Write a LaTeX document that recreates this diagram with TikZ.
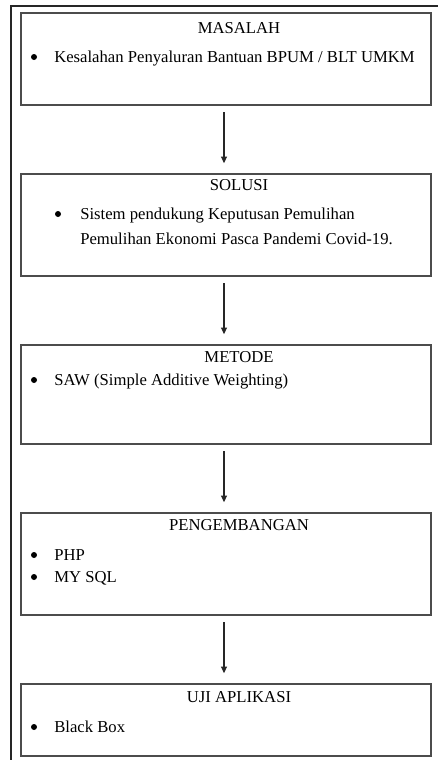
\documentclass[tikz,border=0pt]{standalone}
\usepackage{fontspec}
\setmainfont{Liberation Serif}
\usetikzlibrary{arrows.meta,fit}
\tikzset{
kotak/.style={draw=black!70,line width=1.2pt,inner sep=0pt},
judul/.style={inner sep=0pt,text height=9pt,text depth=1pt},
isi/.style={inner sep=0pt,anchor=west,text height=9pt,text depth=1pt},
titik/.style={circle,fill=black,inner sep=0pt,minimum size=4.5pt},
panah/.style={draw=black!85,line width=0.8pt,-{Triangle[width=4.5pt,length=5pt]},
  shorten <=5pt,shorten >=7.5pt}
}
\begin{document}
\begin{tikzpicture}[x=0.75pt,y=-0.75pt,font=\fontsize{12.5}{15}\selectfont]
\useasboundingbox(0,0)rectangle(437,760);
% bingkai luar
\draw[draw=black!85,line width=1.5pt](11,762)--(11,6)--(439,6);
% kotak
\node[kotak,fit={(21,13)(431,105)}](masalah){};
\node[kotak,fit={(21,174)(431,276)}](solusi){};
\node[kotak,fit={(21,345)(431,444)}](metode){};
\node[kotak,fit={(21,513)(431,615)}](pengembangan){};
\node[kotak,fit={(21,684)(431,756)}](uji){};
% teks
\node[judul](j1)at(239,28){MASALAH};
\node[titik](t1a)at(34,57){};
\node[isi](t1)at(54,57){Kesalahan Penyaluran Bantuan BPUM / BLT UMKM};
\node[judul](j2)at(239,185){SOLUSI};
\node[titik](t2a)at(58,214){};
\node[isi](t2)at(80,214){Sistem pendukung Keputusan Pemulihan};
\node[isi](t2b)at(80,239){Pemulihan Ekonomi Pasca Pandemi Covid-19.};
\node[judul](j3)at(239,357){METODE};
\node[titik](t3a)at(34,380){};
\node[isi](t3)at(54,380){SAW (Simple Additive Weighting)};
\node[judul](j4)at(239,525){PENGEMBANGAN};
\node[titik](t4a)at(34,555){};
\node[isi](t4)at(54,555){PHP};
\node[titik](t4b)at(34,577){};
\node[isi](t4c)at(54,577){MY SQL};
\node[judul](j5)at(239,697){UJI APLIKASI};
\node[titik](t5a)at(34,727){};
\node[isi](t5)at(54,727){Black Box};
% panah
\foreach \a/\b in {masalah/solusi,solusi/metode,metode/pengembangan,pengembangan/uji}
\draw[panah]([xshift=-1.5pt]\a.south)--([xshift=-1.5pt]\b.north);
\end{tikzpicture}
\end{document}
